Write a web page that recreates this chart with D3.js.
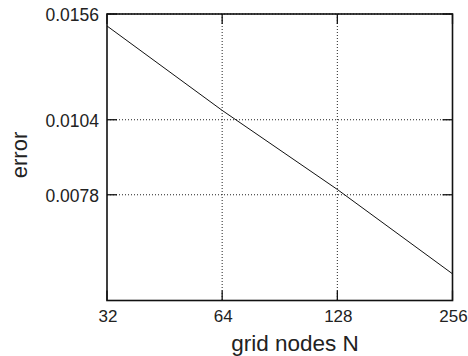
<!DOCTYPE html>
<html><head><meta charset="utf-8">
<script src="https://cdn.jsdelivr.net/npm/d3@7"></script>
<style>body{margin:0;background:#fff}svg{display:block}text{font-family:"Liberation Sans",Arial,Helvetica,sans-serif;fill:#222}</style>
</head><body>
<script>
const nodes = [32, 64, 128, 256];
const errors = [0.01490, 0.01078, 0.00796, 0.00576];
const xTicks = [32, 64, 128, 256];
const yTicks = [0.0078, 0.0104, 0.0156];
const yTickLabels = ["0.0078", "0.0104", "0.0156"];
const yDomain = [0.0052, 0.0156];

const W = 468, H = 356;
const L = 107, R = 452.5, T = 14, B = 300.5;
const svg = d3.select("body").append("svg").attr("width", W).attr("height", H);
const x = d3.scaleLog().base(2).domain([32, 256]).range([L, R]);
const y = d3.scaleLog().domain(yDomain).range([B, T]);

// grid
const g = svg.append("g");
g.selectAll(".gx").data(xTicks.slice(1, -1)).enter().append("line")
  .attr("x1", d => x(d)).attr("x2", d => x(d)).attr("y1", T).attr("y2", B)
  .attr("stroke", "#222").attr("stroke-width", 1).attr("stroke-dasharray", "1,2");
g.selectAll(".gy").data(yTicks).enter().append("line")
  .attr("y1", d => y(d)).attr("y2", d => y(d)).attr("x1", L).attr("x2", R)
  .attr("stroke", "#222").attr("stroke-width", 1).attr("stroke-dasharray", "1,2");

// inward ticks
const tl = 10;
xTicks.forEach(t => {
  svg.append("line").attr("x1", x(t)).attr("x2", x(t)).attr("y1", B).attr("y2", B - tl).attr("stroke", "#111").attr("stroke-width", 1.3);
  svg.append("line").attr("x1", x(t)).attr("x2", x(t)).attr("y1", T).attr("y2", T + tl).attr("stroke", "#111").attr("stroke-width", 1.3);
});
yTicks.forEach(t => {
  svg.append("line").attr("y1", y(t)).attr("y2", y(t)).attr("x1", L).attr("x2", L + tl).attr("stroke", "#111").attr("stroke-width", 1.3);
  svg.append("line").attr("y1", y(t)).attr("y2", y(t)).attr("x1", R).attr("x2", R - tl).attr("stroke", "#111").attr("stroke-width", 1.3);
});

// data line
svg.append("path").datum(nodes.map((n, i) => [n, errors[i]]))
  .attr("d", d3.line().x(d => x(d[0])).y(d => y(d[1])))
  .attr("fill", "none").attr("stroke", "#111").attr("stroke-width", 1);

// frame
svg.append("rect").attr("x", L).attr("y", T).attr("width", R - L).attr("height", B - T)
  .attr("fill", "none").attr("stroke", "#111").attr("stroke-width", 1.6);

// tick labels
svg.selectAll(".xl").data(xTicks).enter().append("text")
  .attr("x", d => x(d) + 1).attr("y", 321.5).attr("text-anchor", "middle")
  .style("font-size", "17px").text(d => d);
svg.selectAll(".yl").data(yTicks).enter().append("text")
  .attr("x", L - 8).attr("y", d => y(d) + 7).attr("text-anchor", "end")
  .style("font-size", "17.5px").text((d, i) => yTickLabels[i]);

// axis titles
svg.append("text").attr("x", 295).attr("y", 350.5).attr("text-anchor", "middle")
  .style("font-size", "22.5px").text("grid nodes N");
svg.append("text").attr("transform", "translate(27,155) rotate(-90)").attr("text-anchor", "middle")
  .style("font-size", "22px").text("error");
</script>
</body></html>
